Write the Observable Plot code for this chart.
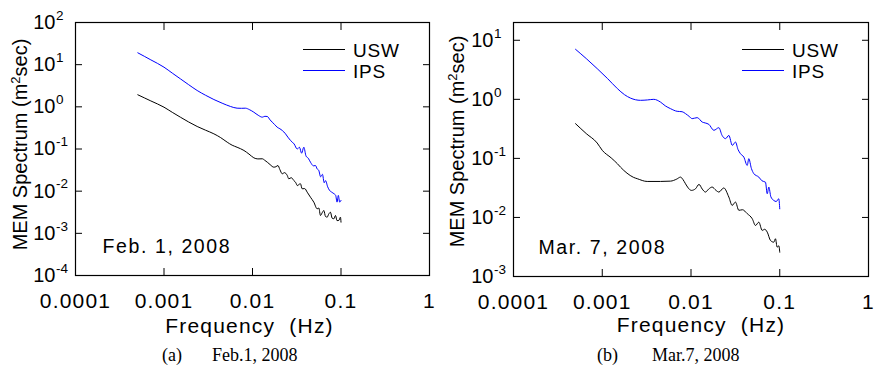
<!DOCTYPE html>
<html>
<head>
<meta charset="utf-8">
<script src="https://cdn.jsdelivr.net/npm/d3@7"></script>
<script src="https://cdn.jsdelivr.net/npm/@observablehq/plot@0.6"></script>
<style>
  body { margin: 0; background: #fff; }
  #wrap { position: relative; width: 874px; height: 369px; overflow: hidden; font-family: "Liberation Sans", Arial, sans-serif; color: #000; }
  .panel { position: absolute; top: 0; }
  .legrow { position: absolute; height: 19px; line-height: 19px; font-size: 19px; letter-spacing: 0.8px; white-space: nowrap; }
  .sw { position: absolute; height: 0; border-top: 1px solid #000; }
  .cap { position: absolute; font-family: "Liberation Serif", "Times New Roman", serif; font-size: 18px; line-height: 18px; white-space: nowrap; }
  g[font-size="21"] text { letter-spacing: 1.2px; }
  g[font-size="19.5"] text { letter-spacing: 1.6px; }
</style>
</head>
<body>
<div id="wrap"></div>
<script>
// ---- data ----
const xTicks = [0.0001, 0.001, 0.01, 0.1, 1];
const xTickLabels = ["0.0001", "0.001", "0.01", "0.1", "1"];
const febYTicks = [1e-4, 1e-3, 1e-2, 1e-1, 1, 10, 100];
const febYExp = ["-4", "-3", "-2", "-1", "0", "1", "2"];
const marYTicks = [1e-3, 1e-2, 1e-1, 1, 10];
const marYExp = ["-3", "-2", "-1", "0", "1"];
const seriesNames = ["USW", "IPS"];
const seriesColors = ["#000000", "#0000ff"];
const xTitle = "Frequency\u00a0 (Hz)";
const yTitle = "MEM Spectrum (m\u00b2sec)";
const panelDates = ["Feb. 1, 2008", "Mar. 7, 2008"];
const captionTags = ["(a)", "(b)"];
const captionTexts = ["Feb.1, 2008", "Mar.7, 2008"];

// Feb. 1, 2008
const febFreqIPS = [0.000506, 0.00071, 0.001, 0.00124, 0.00153, 0.0019, 0.00237, 0.00295, 0.00366, 0.00454, 0.00564, 0.0067, 0.0075, 0.0083, 0.0093, 0.01035, 0.0116, 0.0129, 0.0138, 0.0147, 0.0158, 0.0167, 0.0178, 0.019, 0.0204, 0.0217, 0.0236, 0.0251, 0.0269, 0.0295, 0.032, 0.0339, 0.0359, 0.038, 0.0403, 0.0427, 0.0452, 0.049, 0.0515, 0.0537, 0.0561, 0.0589, 0.0617, 0.0646, 0.0668, 0.0708, 0.0741, 0.0794, 0.0832, 0.0871, 0.0902, 0.0933, 0.0966, 0.1];
const febIPS = [19.1, 13.0, 8.71, 6.31, 4.62, 3.35, 2.44, 1.88, 1.49, 1.22, 1.02, 0.929, 0.923, 0.929, 0.851, 0.746, 0.631, 0.569, 0.596, 0.59, 0.49, 0.433, 0.38, 0.329, 0.302, 0.275, 0.229, 0.191, 0.159, 0.132, 0.1, 0.11, 0.0794, 0.11, 0.0676, 0.0603, 0.0486, 0.0398, 0.0406, 0.0339, 0.0309, 0.0219, 0.0251, 0.0158, 0.0178, 0.0126, 0.0105, 0.00933, 0.00871, 0.00794, 0.0055, 0.00794, 0.0055, 0.00603];
const febFreqUSW = [0.000506, 0.00071, 0.001, 0.00124, 0.00153, 0.0019, 0.00237, 0.00295, 0.00366, 0.00437, 0.00518, 0.00589, 0.0067, 0.008, 0.00912, 0.01035, 0.0115, 0.0129, 0.0138, 0.0147, 0.0158, 0.0174, 0.0184, 0.0194, 0.0204, 0.0217, 0.0229, 0.0247, 0.0257, 0.0274, 0.0293, 0.0309, 0.032, 0.0348, 0.0364, 0.0389, 0.0415, 0.0452, 0.0493, 0.0538, 0.0562, 0.0586, 0.0617, 0.064, 0.0668, 0.0698, 0.0724, 0.076, 0.0794, 0.083, 0.0867, 0.0902, 0.0944, 0.0986, 0.1];
const febUSW = [1.93, 1.38, 0.98, 0.741, 0.569, 0.437, 0.342, 0.279, 0.229, 0.186, 0.145, 0.123, 0.11, 0.0923, 0.0759, 0.0618, 0.0582, 0.0586, 0.0537, 0.0486, 0.0427, 0.0371, 0.038, 0.0406, 0.0324, 0.0258, 0.0275, 0.0236, 0.0196, 0.0209, 0.0179, 0.0158, 0.0136, 0.015, 0.0114, 0.0115, 0.00946, 0.00719, 0.00548, 0.00382, 0.00398, 0.00265, 0.00316, 0.00348, 0.00251, 0.00242, 0.00282, 0.00317, 0.00229, 0.00221, 0.00265, 0.002, 0.00202, 0.00242, 0.00184];

// Mar. 7, 2008
const marFreqIPS = [0.0005, 0.00066, 0.000877, 0.00115, 0.00148, 0.00178, 0.00208, 0.0027, 0.00324, 0.00381, 0.00453, 0.00513, 0.00588, 0.00698, 0.00794, 0.00867, 0.00955, 0.0103, 0.01175, 0.0134, 0.01445, 0.0159, 0.0181, 0.0206, 0.0224, 0.0245, 0.0267, 0.0292, 0.0317, 0.0339, 0.0361, 0.0394, 0.043, 0.0448, 0.0479, 0.0511, 0.0581, 0.0631, 0.069, 0.0723, 0.0753, 0.0794, 0.0857, 0.0912, 0.0975, 0.1];
const marIPS = [7.03, 4.9, 3.31, 2.24, 1.52, 1.2, 1.05, 0.962, 0.977, 1.0, 0.899, 0.776, 0.695, 0.627, 0.617, 0.573, 0.513, 0.471, 0.49, 0.412, 0.398, 0.377, 0.299, 0.331, 0.245, 0.216, 0.245, 0.166, 0.189, 0.141, 0.12, 0.105, 0.076, 0.0989, 0.0676, 0.0551, 0.0482, 0.0417, 0.0396, 0.0252, 0.0327, 0.0224, 0.0194, 0.0186, 0.0207, 0.014];
const marFreqUSW = [0.0005, 0.00066, 0.000877, 0.001, 0.00126, 0.00148, 0.00161, 0.0019, 0.00224, 0.00248, 0.00321, 0.00453, 0.00588, 0.00692, 0.00762, 0.00813, 0.00867, 0.0093, 0.0101, 0.01125, 0.0123, 0.0134, 0.01455, 0.0158, 0.0173, 0.0191, 0.0206, 0.0234, 0.0267, 0.0291, 0.0317, 0.0346, 0.038, 0.043, 0.049, 0.0533, 0.0581, 0.0634, 0.0676, 0.0723, 0.0787, 0.0857, 0.0895, 0.0935, 0.0977, 0.1];
const marUSW = [0.387, 0.263, 0.182, 0.137, 0.102, 0.0813, 0.0708, 0.0562, 0.0479, 0.0453, 0.0407, 0.0407, 0.0412, 0.0447, 0.0482, 0.0437, 0.0372, 0.0316, 0.0287, 0.0306, 0.0363, 0.0302, 0.0269, 0.0302, 0.0327, 0.0288, 0.0269, 0.0316, 0.0221, 0.016, 0.0182, 0.0132, 0.0135, 0.0116, 0.0095, 0.00731, 0.00832, 0.00603, 0.00631, 0.00564, 0.00407, 0.00381, 0.00436, 0.00314, 0.00331, 0.00258];

// ---- drawing ----
function makePanel(o) {
  const rows = [];
  o.uswF.forEach((f, i) => rows.push({f, v: o.usw[i], s: seriesNames[0]}));
  o.ipsF.forEach((f, i) => rows.push({f, v: o.ips[i], s: seriesNames[1]}));
  return Plot.plot({
    width: o.width, height: 340,
    marginLeft: o.ml, marginRight: o.mr, marginTop: 22, marginBottom: o.mb,
    style: {fontFamily: '"Liberation Sans", Arial, sans-serif', background: "transparent", overflow: "visible", color: "#000"},
    x: {type: "log", domain: [xTicks[0], xTicks[xTicks.length - 1]]},
    y: {type: "log", domain: o.yDomain},
    color: {domain: seriesNames, range: seriesColors},
    marks: [
      Plot.line(rows, {x: "f", y: "v", z: "s", stroke: "s", strokeWidth: 1, curve: "monotone-x"}),
      Plot.frame({stroke: "#000", strokeWidth: 1.2}),
      Plot.axisX({anchor: "bottom", ticks: xTicks, tickSize: -7, tickPadding: 25, tickFormat: d => xTickLabels[xTicks.indexOf(d)], fontSize: 21, label: null}),
      Plot.axisX({anchor: "top", ticks: xTicks, tickSize: -7, tickFormat: () => "", label: null}),
      Plot.axisY({anchor: "left", ticks: o.yTicks, tickSize: -7, tickFormat: () => "", label: null}),
      Plot.axisY({anchor: "right", ticks: o.yTicks, tickSize: -7, tickFormat: () => "", label: null}),
      Plot.text(o.yTicks, {y: d => d, frameAnchor: "left", text: () => "10", textAnchor: "end", dx: -20, fontSize: 20}),
      Plot.text(o.yTicks, {y: d => d, frameAnchor: "left", text: (d, i) => o.yExp[i], textAnchor: "start", dx: -19.5, dy: -7, fontSize: 13.5}),
      Plot.text([o.date], {frameAnchor: "bottom-left", text: d => d, textAnchor: "start", lineAnchor: "middle", dx: o.dateDx, dy: -28.5, fontSize: 19.5}),
      Plot.text([xTitle], {frameAnchor: "bottom", text: d => d, textAnchor: "middle", lineAnchor: "middle", dx: o.xtDx, dy: o.xtDy, fontSize: 21}),
      Plot.text([yTitle], {frameAnchor: "left", text: d => d, rotate: -90, textAnchor: "middle", lineAnchor: "middle", dx: o.ytDx, dy: o.ytDy, fontSize: 20})
    ]
  });
}

// render the "²" of the axis title as a raised digit
function raiseSuperscript(svg) {
  svg.querySelectorAll("text").forEach(t => {
    const s = t.textContent;
    const k = s.indexOf("\u00b2");
    if (k < 0) return;
    t.textContent = "";
    const ns = "http://www.w3.org/2000/svg";
    const a = document.createElementNS(ns, "tspan"); a.textContent = s.slice(0, k);
    const b = document.createElementNS(ns, "tspan"); b.textContent = "2";
    b.setAttribute("font-size", "13"); b.setAttribute("dy", "-7");
    const c = document.createElementNS(ns, "tspan"); c.textContent = s.slice(k + 1);
    c.setAttribute("dy", "7");
    t.append(a, b, c);
  });
}

const wrap = document.getElementById("wrap");
const panels = [
  {left: 0, width: 440, ml: 75, mr: 11, mb: 65, yDomain: [1e-4, 100], yTicks: febYTicks, yExp: febYExp,
   ipsF: febFreqIPS, ips: febIPS, uswF: febFreqUSW, usw: febUSW, date: panelDates[0], dateDx: 27,
   xtDx: -3, xtDy: 51, ytDx: -55, ytDy: -4.5, legX: 303, capTagX: 162, capTextX: 212},
  {left: 440, width: 434, ml: 73, mr: 6, mb: 64, yDomain: [1e-3, 20], yTicks: marYTicks, yExp: marYExp,
   ipsF: marFreqIPS, ips: marIPS, uswF: marFreqUSW, usw: marUSW, date: panelDates[1], dateDx: 25,
   xtDx: 10, xtDy: 49, ytDx: -56, ytDy: -8, legX: 742, capTagX: 597, capTextX: 652}
];

panels.forEach((p, k) => {
  const svg = makePanel(p);
  raiseSuperscript(svg);
  const holder = document.createElement("div");
  holder.className = "panel";
  holder.style.left = p.left + "px";
  holder.appendChild(svg);
  wrap.appendChild(holder);

  // legend (inside the plotting frame, top-right)
  seriesNames.forEach((name, j) => {
    const y = 49 + j * 21;
    const sw = document.createElement("div");
    sw.className = "sw";
    sw.style.left = p.legX + "px";
    sw.style.top = (y - 0.5) + "px";
    sw.style.width = "42px";
    sw.style.borderTopColor = seriesColors[j];
    wrap.appendChild(sw);
    const t = document.createElement("div");
    t.className = "legrow";
    t.style.left = (p.legX + 50) + "px";
    t.style.top = (y - 7.8) + "px";
    t.textContent = name;
    wrap.appendChild(t);
  });

  // caption below
  const tag = document.createElement("div");
  tag.className = "cap";
  tag.style.left = p.capTagX + "px";
  tag.style.top = "346px";
  tag.textContent = captionTags[k];
  wrap.appendChild(tag);
  const txt = document.createElement("div");
  txt.className = "cap";
  txt.style.left = p.capTextX + "px";
  txt.style.top = "346px";
  txt.textContent = captionTexts[k];
  wrap.appendChild(txt);
});
</script>
</body>
</html>
